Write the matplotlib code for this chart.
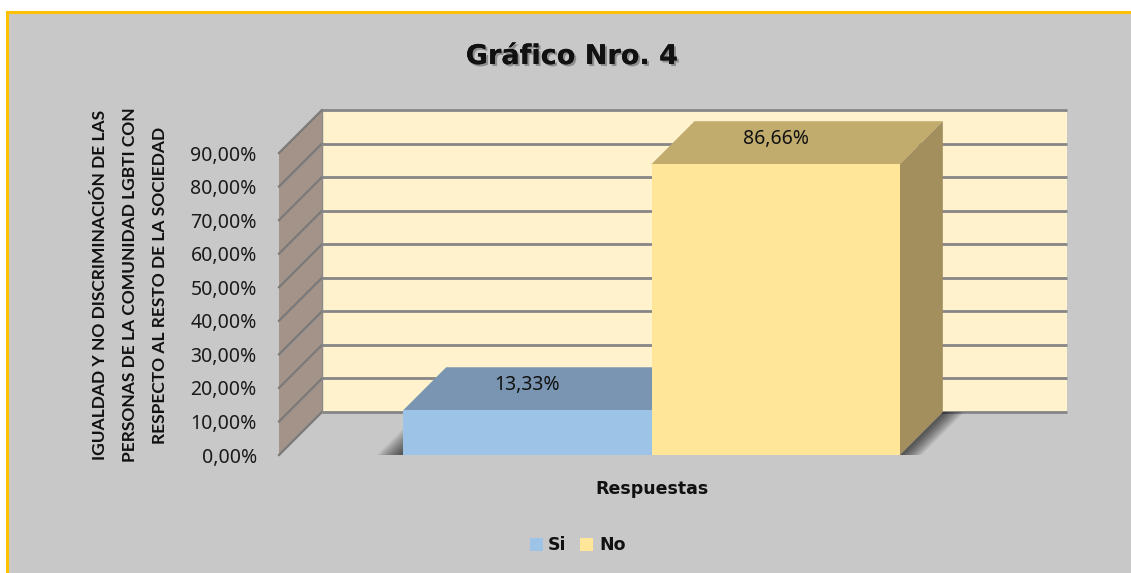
import matplotlib
matplotlib.use("Agg")
import matplotlib.pyplot as plt
from matplotlib.patches import Polygon, Rectangle
import matplotlib.patheffects as pe

# ---- data ----
categories = ["Si", "No"]
values = [13.33, 86.66]
value_labels = ["13,33%", "86,66%"]
ytick_vals = [0, 10, 20, 30, 40, 50, 60, 70, 80, 90]
ytick_labels = ["0,00%", "10,00%", "20,00%", "30,00%", "40,00%", "50,00%",
                "60,00%", "70,00%", "80,00%", "90,00%"]
title = "Gráfico Nro. 4"
ylabel = ("IGUALDAD Y NO DISCRIMINACIÓN DE LAS\n"
          "PERSONAS DE LA COMUNIDAD LGBTI CON\n"
          "RESPECTO AL RESTO DE LA SOCIEDAD")
xlabel = "Respuestas"

front_colors = ["#9DC3E6", "#FFE699"]
top_colors = ["#7A95B1", "#C1AC6E"]
side_colors = ["#6F8AA6", "#A38F5D"]

FONT = ["Noto Sans", "DejaVu Sans"]
BOLD_WIDE = ["DejaVu Sans"]
BOLD_NARROW = ["Lato", "DejaVu Sans"]
plt.rcParams["font.family"] = FONT

W, H = 1131, 573
fig = plt.figure(figsize=(W / 100, H / 100), dpi=100)
fig.patch.set_facecolor("white")

# background panel with gold border (top & left visible)
bg = fig.add_axes([0, 0, 1, 1])
bg.set_xlim(0, W)
bg.set_ylim(H, 0)
bg.axis("off")
bg.add_patch(Rectangle((7, 12), W, H, facecolor="#C8C8C8", edgecolor="#FFC000", lw=2.2))

# main axes: front plane
x0, x1 = 279, 1024
y0, y1 = 455, 153
ax = fig.add_axes([x0 / W, (H - y0) / H, (x1 - x0) / W, (y0 - y1) / H])
ax.set_xlim(-1.5, 1.5)
ax.set_ylim(0, 90)
ax.patch.set_alpha(0)
for s in ax.spines.values():
    s.set_visible(False)
ax.set_xticks([])
ax.set_yticks(ytick_vals)
ax.set_yticklabels(ytick_labels, fontsize=14, color="#1a1a1a")
ax.tick_params(axis="y", length=0, pad=16)

depth_px = 43
dx = depth_px * 3.0 / (x1 - x0)
dy = depth_px * 90.0 / (y0 - y1)
xmin, xmax = -1.5, 1.5
ymax = 90

# back wall
ax.add_patch(Polygon([(xmin + dx, dy), (xmax + dx, dy), (xmax + dx, ymax + dy), (xmin + dx, ymax + dy)],
                     closed=True, facecolor="#FFF2CC", edgecolor="none", clip_on=False, zorder=1))
# side wall
ax.add_patch(Polygon([(xmin, 0), (xmin + dx, dy), (xmin + dx, ymax + dy), (xmin, ymax)],
                     closed=True, facecolor="#A39388", edgecolor="none", clip_on=False, zorder=1))
# gridlines
for v in ytick_vals:
    ax.plot([xmin + dx, xmax + dx], [v + dy, v + dy], color="#868686", lw=2, clip_on=False, zorder=2,
            solid_capstyle="butt")
    ax.plot([xmin, xmin + dx], [v, v + dy], color="#7a7a7a", lw=1.6, clip_on=False, zorder=2)
ax.plot([xmin + dx, xmin + dx], [dy, ymax + dy], color="#8a8a8a", lw=1, clip_on=False, zorder=2)

# shadows (soft gradient)
xs = [-1, 0]
for k in range(10):
    a = 0.08
    off = (10 - k) / 10.0
    ax.add_patch(Polygon([(xs[0], 0), (xs[0] - dx * 0.6 * off, 0), (xs[0], dy * 0.6 * off)],
                         closed=True, facecolor="black", alpha=a, edgecolor="none", clip_on=False, zorder=3))
    ax.add_patch(Polygon([(xs[1] + 1, 0), (xs[1] + 1 + dx, dy), (xs[1] + 1 + dx + dx * 0.5 * off, dy),
                          (xs[1] + 1 + dx * 0.5 * off, 0)],
                         closed=True, facecolor="black", alpha=a, edgecolor="none", clip_on=False, zorder=3))

# bars
bars = ax.bar(xs, values, width=1.0, align="edge", color=front_colors, edgecolor="none", zorder=5)
for i, (b, v) in enumerate(zip(bars, values)):
    l = b.get_x()
    r = l + b.get_width()
    ax.add_patch(Polygon([(l, v), (r, v), (r + dx, v + dy), (l + dx, v + dy)], closed=True,
                         facecolor=top_colors[i], edgecolor="none", clip_on=False, zorder=4 + i * 2))
    ax.add_patch(Polygon([(r, 0), (r + dx, dy), (r + dx, v + dy), (r, v)], closed=True,
                         facecolor=side_colors[i], edgecolor="none", clip_on=False, zorder=4 + i * 2))
    b.set_zorder(5 + i * 2)
    ax.text(l + 0.5, v + dy * 0.5 + 1.0, value_labels[i], ha="center", va="center",
            fontsize=14, color="#111111", zorder=20)

# title
fig.text(572 / W, 1 - 57 / H, title, ha="center", va="center", fontsize=19.5, fontweight="bold",
         color="#111111", family=BOLD_WIDE,
         path_effects=[pe.withSimplePatchShadow(offset=(1.5, -1.5), shadow_rgbFace="#666666", alpha=0.6),
                       pe.Normal()])

# y label
fig.text(130 / W, 1 - 285 / H, ylabel, ha="center", va="center", rotation=90, fontsize=12.5,
         fontweight="bold", color="#111111", linespacing=2.1, multialignment="center",
         family=BOLD_NARROW)

# x label
fig.text(652 / W, 1 - 489 / H, xlabel, ha="center", va="center", fontsize=12.5, fontweight="bold",
         color="#111111", family=BOLD_WIDE)

# legend
bg.add_patch(Rectangle((530, 538), 13, 13, facecolor=front_colors[0], edgecolor="none"))
bg.text(548, 544.5, categories[0], ha="left", va="center", fontsize=12.5, fontweight="bold",
        color="#111111", family=BOLD_WIDE)
bg.add_patch(Rectangle((580, 538), 13, 13, facecolor=front_colors[1], edgecolor="none"))
bg.text(599, 544.5, categories[1], ha="left", va="center", fontsize=12.5, fontweight="bold",
        color="#111111", family=BOLD_WIDE)

fig.savefig("out.png", dpi=100, facecolor=fig.get_facecolor())
